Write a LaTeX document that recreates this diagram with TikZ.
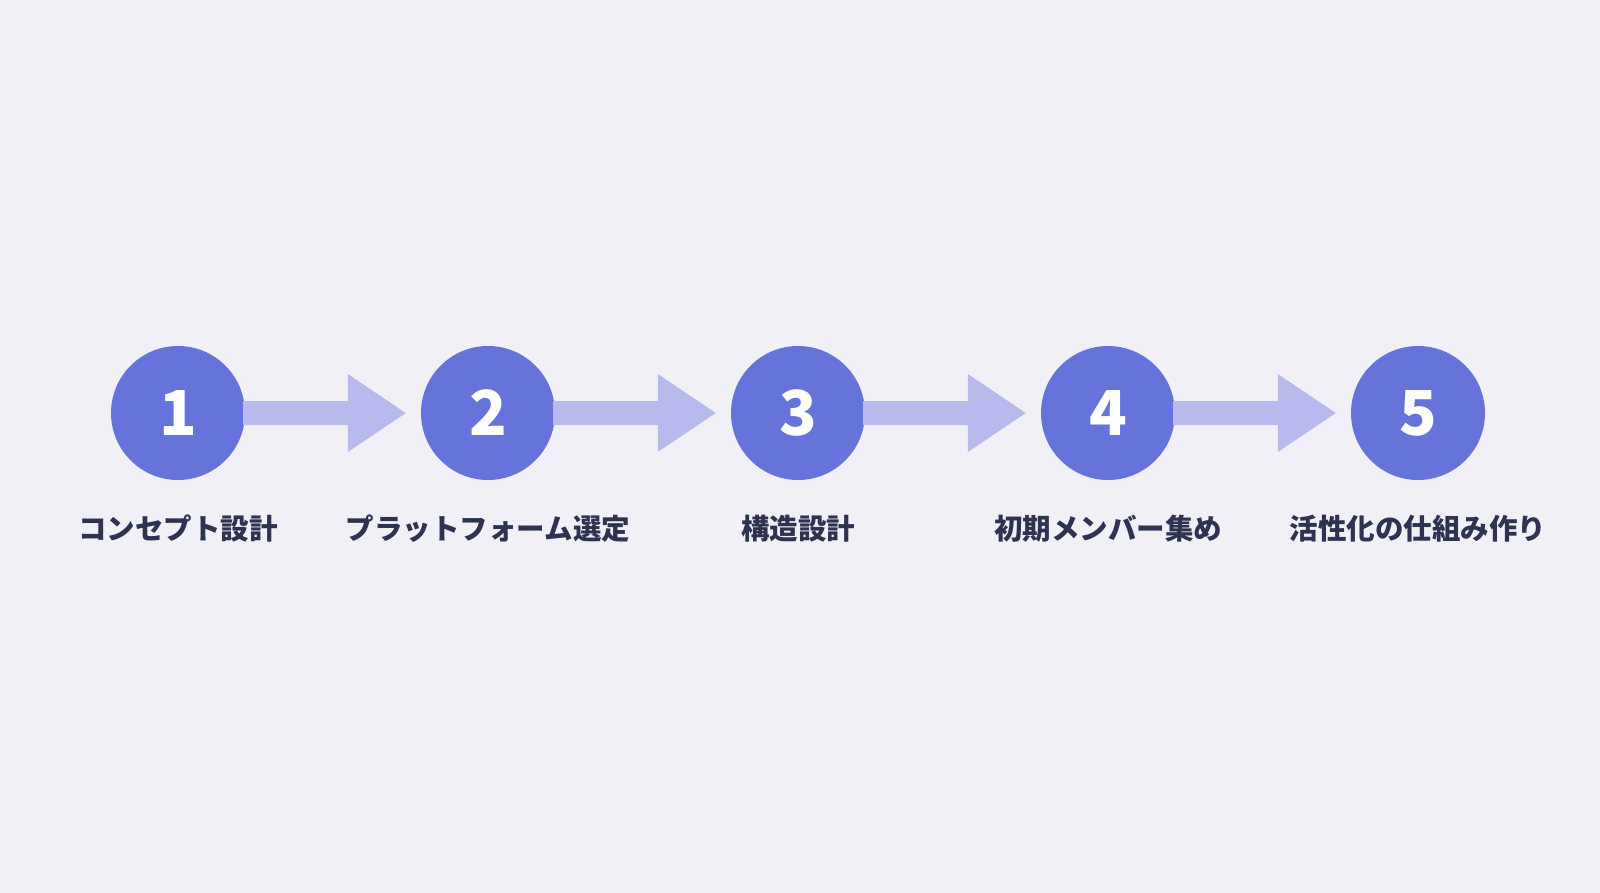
\documentclass[tikz,border=0pt]{standalone}
\usepackage{fontspec}
\newfontfamily\jp{Noto Sans CJK JP}
\usetikzlibrary{calc}
\definecolor{bg}{HTML}{F0F0F6}
\definecolor{circ}{HTML}{6673DB}
\definecolor{arr}{HTML}{B8B9EC}
\definecolor{txt}{HTML}{2D3350}
\tikzset{
  stepcirc/.style={circle,fill=circ,minimum size=134pt,inner sep=0pt,text=white,font=\jp\bfseries\fontsize{62}{62}\selectfont},
  steplabel/.style={text=txt,font=\jp\bfseries\fontsize{28.5}{32}\selectfont},
}
\begin{document}
\begin{tikzpicture}[x=1pt,y=-1pt]
\fill[bg] (0,0) rectangle (1600,893);
\useasboundingbox (0,0) rectangle (1600,893);
\foreach \i/\t in {1/コンセプト設計,2/プラットフォーム選定,3/構造設計,4/初期メンバー集め,5/活性化の仕組み作り}{
  \node[stepcirc] (c\i) at ({178+310*(\i-1)},413) {\i};
  \node[steplabel] (l\i) at ({178+310*(\i-1)},529) {\t};
}
\foreach \i [evaluate=\i as \j using int(\i+1)] in {1,2,3,4}{
  \coordinate (t\i) at ($(c\j.west)+(-15,0)$);
  \fill[arr] ($(c\i.east)+(-2,-12)$) -- ($(t\i)+(-58,-12)$) -- ($(t\i)+(-58,-39)$) -- (t\i)
    -- ($(t\i)+(-58,39)$) -- ($(t\i)+(-58,12)$) -- ($(c\i.east)+(-2,12)$) -- cycle;
}
\end{tikzpicture}
\end{document}
